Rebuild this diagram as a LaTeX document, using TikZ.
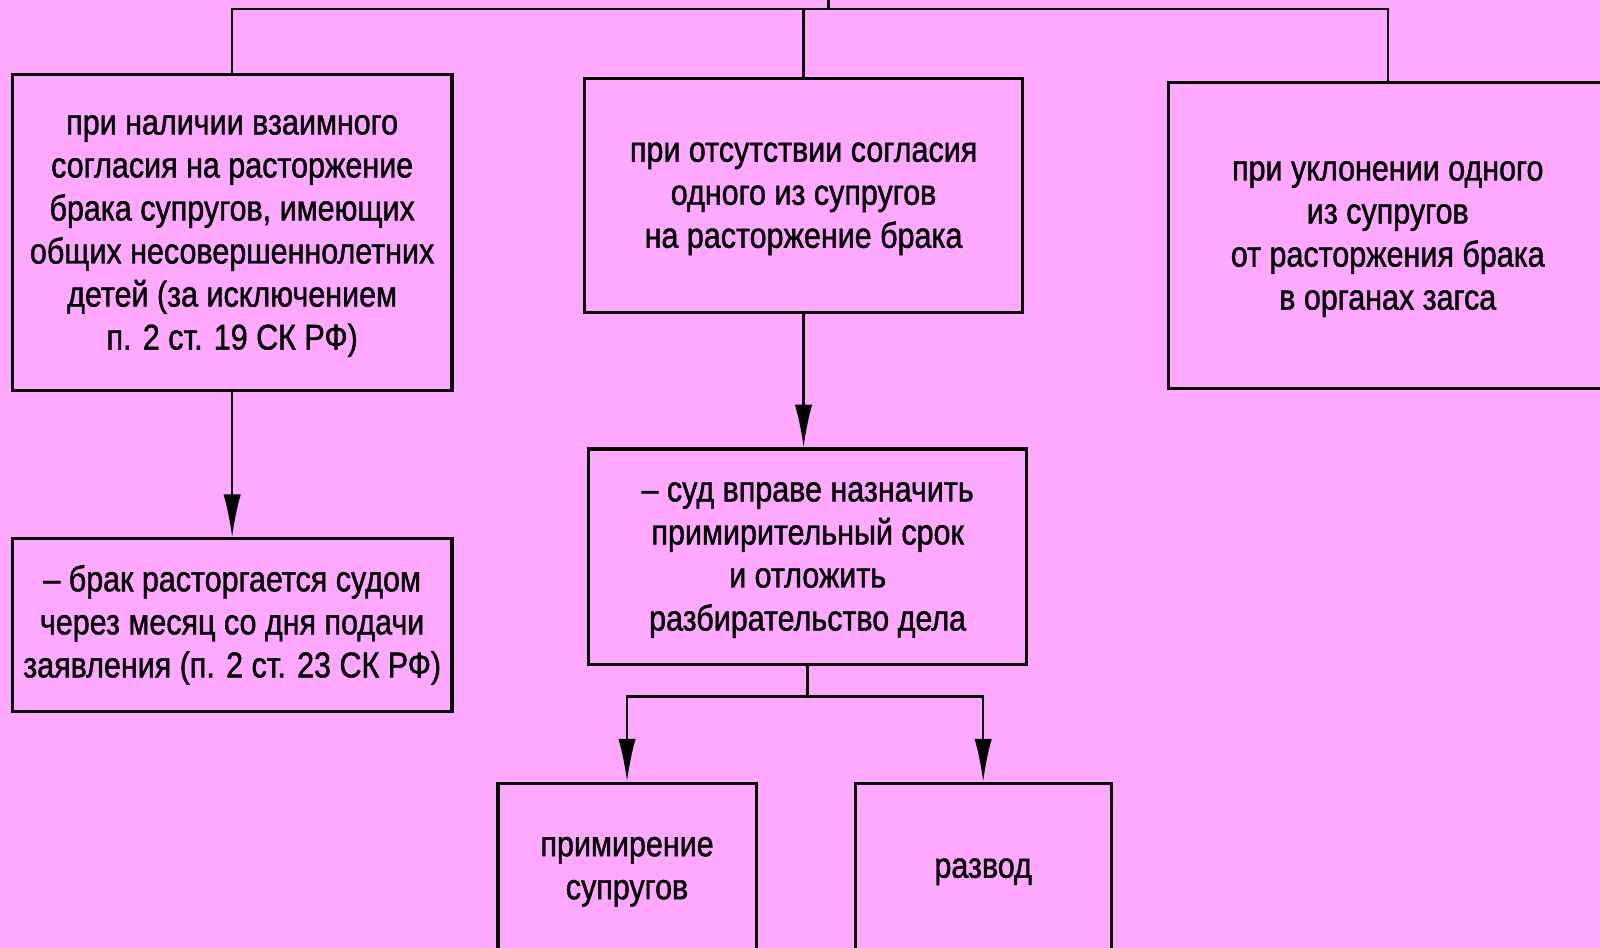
\documentclass[tikz,border=0pt]{standalone}
\usepackage{fontspec}
\setmainfont{Liberation Sans}[FakeStretch=0.85, FakeBold=1.2]
\usetikzlibrary{positioning,arrows.meta}
\definecolor{pinkbg}{RGB}{255,168,255}
\newcommand\boxstrut{\rule[-5.6pt]{0pt}{21.6pt}}

\begin{document}
\begin{tikzpicture}[x=0.02cm, y=-0.02cm,
  box/.style={draw, line width=1.7pt, align=center, inner sep=0pt,
    font=\fontsize{20}{24}\selectfont},
  link/.style={line width=1.3pt},
  arr/.style={link, -{Latex[length=0.84cm,width=0.34cm]}},
]
  \clip (0,0) rectangle (1568,929);
  \fill[pinkbg] (0,0) rectangle (1568,929);

  \node[box, minimum width=8.62cm, minimum height=6.2cm] (mutual) at (227.5,228)
    {\boxstrut при наличии взаимного\\согласия на расторжение\\брака супругов, имеющих\\общих несовершеннолетних\\детей (за исключением\\п. 2 ст. 19 СК РФ)\boxstrut};
  \node[box, minimum width=8.58cm, minimum height=4.58cm] (nocons) at (787.5,191.5)
    {\boxstrut при отсутствии согласия\\одного из супругов\\на расторжение брака\boxstrut};
  \node[box, minimum width=8.6cm, minimum height=6.0cm] (evade) at (1360,231)
    {\boxstrut при уклонении одного\\из супругов\\от расторжения брака\\в органах загса\boxstrut};
  \node[box, minimum width=8.62cm, minimum height=3.38cm] (court) at (227.5,612.5)
    {\boxstrut – брак расторгается судом\\через месяц со дня подачи\\заявления (п. 2 ст. 23 СК РФ)\boxstrut};
  \node[box, minimum width=8.58cm, minimum height=4.22cm] (delay) at (791.5,545.5)
    {\boxstrut – суд вправе назначить\\примирительный срок\\и отложить\\разбирательство дела\boxstrut};
  \node[box, minimum width=5.06cm, minimum height=3.34cm] (reconc) at (614.5,851)
    {\boxstrut примирение\\супругов\boxstrut};
  \node[box, minimum width=5.02cm, minimum height=3.34cm] (divorce) at (963.5,851)
    {\boxstrut развод};

  \coordinate (root) at (812,-5);
  \coordinate (bus) at (812,9);
  \draw[link] (root) -- (bus);
  \draw[link] (mutual.north) |- (bus) -| (evade.north);
  \draw[link] (bus -| nocons.north) -- (nocons.north);

  \draw[arr] (mutual.south) -- (court.north);
  \draw[arr] (nocons.south) -- (nocons.south |- delay.north);
  \draw[link] (delay.south) -- ++(0,30) coordinate (split);
  \draw[arr] (split) -| (reconc.north);
  \draw[arr] (split) -| (divorce.north);
\end{tikzpicture}
\end{document}
